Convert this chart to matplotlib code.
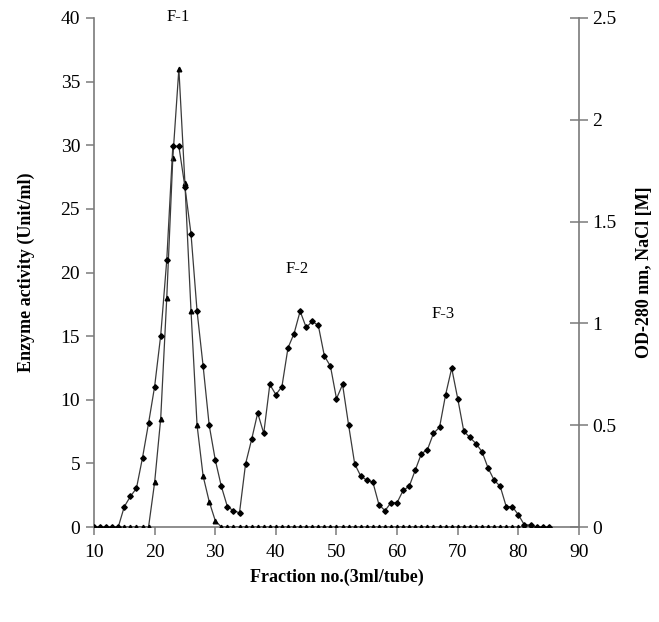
import matplotlib
matplotlib.use("Agg")
import matplotlib.pyplot as plt

# Fractions (3 ml/tube)
fractions = list(range(10, 86))

# Enzyme activity (Unit/ml) - triangles, left axis
enzyme = [0, 0, 0, 0, 0, 0, 0, 0, 0, 0,          # 10-19
          3.5, 8.5, 18, 29, 36, 27, 17, 8, 4, 2,  # 20-29
          0.5] + [0] * 55                          # 30-85

# OD-280 nm - diamonds, right axis
od280 = [0, 0, 0, 0, 0,                                  # 10-14
         0.10, 0.15, 0.19, 0.34, 0.51,                   # 15-19
         0.69, 0.94, 1.31, 1.87, 1.87,                   # 20-24
         1.67, 1.44, 1.06, 0.79, 0.50,                   # 25-29
         0.33, 0.20, 0.10, 0.08, 0.07,                   # 30-34
         0.31, 0.43, 0.56, 0.46, 0.70,                   # 35-39
         0.65, 0.69, 0.88, 0.95, 1.06,                   # 40-44
         0.98, 1.01, 0.99, 0.84, 0.79,                   # 45-49
         0.63, 0.70, 0.50, 0.31, 0.25,                   # 50-54
         0.23, 0.22, 0.11, 0.08, 0.12,                   # 55-59
         0.12, 0.18, 0.20, 0.28, 0.36,                   # 60-64
         0.38, 0.46, 0.49, 0.65, 0.78,                   # 65-69
         0.63, 0.47, 0.44, 0.41, 0.37,                   # 70-74
         0.29, 0.23, 0.20, 0.10, 0.10,                   # 75-79
         0.06, 0.01, 0.01, 0, 0, 0]                      # 80-85

peak_labels = ["F-1", "F-2", "F-3"]
peak_x = [23.8, 43.5, 67.5]
peak_y = [40.1, 20.3, 16.7]

left_ticks = [0, 5, 10, 15, 20, 25, 30, 35, 40]
right_ticks = [0, 0.5, 1, 1.5, 2, 2.5]
right_ticklabels = ["0", "0.5", "1", "1.5", "2", "2.5"]
x_ticks = [10, 20, 30, 40, 50, 60, 70, 80, 90]

plt.rcParams['font.family'] = ['Liberation Serif', 'DejaVu Serif']

fig = plt.figure(figsize=(6.59, 6.22), dpi=100)
ax = fig.add_axes([94 / 659, 1 - 527 / 622, (579 - 94) / 659, (527 - 18) / 622])
ax2 = ax.twinx()

spine_col = '#7a7a7a'
line_col = '#3a3a3a'

ax.plot(fractions, enzyme, color=line_col, lw=0.9, marker='^', ms=3.3,
        mfc='black', mec='black', zorder=3)
ax2.plot(fractions, od280, color=line_col, lw=0.9, marker='D', ms=2.8,
         mfc='black', mec='black', zorder=3)

ax.set_xlim(10, 90)
ax.set_ylim(0, 40)
ax2.set_ylim(0, 2.5)

ax.set_xticks(x_ticks)
ax.set_yticks(left_ticks)
ax2.set_yticks(right_ticks)
ax2.set_yticklabels(right_ticklabels)

for a in (ax, ax2):
    a.spines['top'].set_visible(False)
    for s in ('left', 'right', 'bottom'):
        a.spines[s].set_color(spine_col)
        a.spines[s].set_linewidth(1.2)
ax.spines['right'].set_visible(False)
ax2.spines['left'].set_visible(False)
ax2.spines['bottom'].set_visible(False)

ax.tick_params(axis='y', direction='out', length=6, width=1.1, color=spine_col,
               labelsize=14, pad=4)
ax.tick_params(axis='x', direction='out', length=6, width=1.1, color=spine_col,
               labelsize=14, pad=6)
ax2.tick_params(axis='y', direction='inout', length=13, width=1.1, color=spine_col,
                labelsize=14, pad=3)

for lab, xx, yy in zip(peak_labels, peak_x, peak_y):
    ax.text(xx, yy, lab, ha='center', va='center', fontsize=12, clip_on=False)

ax.set_xlabel("Fraction no.(3ml/tube)", fontsize=13, fontweight='bold', labelpad=6)
ax.set_ylabel("Enzyme activity (Unit/ml)", fontsize=13, fontweight='bold', labelpad=18)
ax2.set_ylabel("OD-280 nm, NaCl [M]", fontsize=13, fontweight='bold', labelpad=14)

fig.savefig("out.png", dpi=100)
